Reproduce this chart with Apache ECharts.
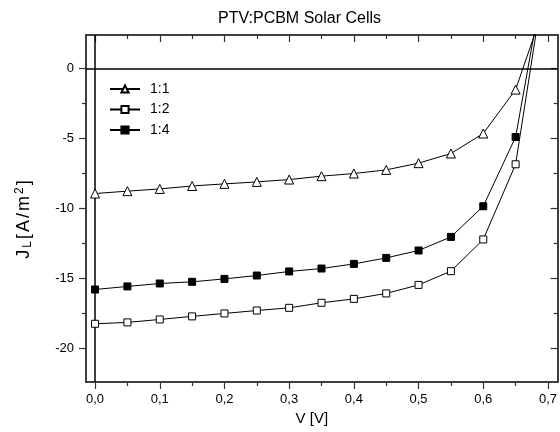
<!DOCTYPE html>
<html>
<head>
<meta charset="utf-8">
<script src="https://cdn.jsdelivr.net/npm/echarts@6/dist/echarts.min.js"></script>
<style>
  html, body { margin: 0; padding: 0; background: #fff; }
  #chart { width: 560px; height: 432px; }
</style>
</head>
<body>
<div id="chart"></div>
<script>
// PTV:PCBM J-V curves
const voltages = [0, 0.05, 0.1, 0.15, 0.2, 0.25, 0.3, 0.35, 0.4, 0.45, 0.5, 0.55, 0.6, 0.65, 0.7];
const ratio11 = [-8.93, -8.76, -8.6, -8.39, -8.24, -8.1, -7.93, -7.69, -7.5, -7.24, -6.76, -6.07, -4.64, -1.5, 5.2];
const ratio12 = [-18.24, -18.14, -17.93, -17.71, -17.5, -17.29, -17.1, -16.74, -16.46, -16.07, -15.46, -14.48, -12.21, -6.84, 8.0];
const ratio14 = [-15.79, -15.57, -15.36, -15.24, -15.03, -14.79, -14.5, -14.29, -13.96, -13.53, -13.0, -12.03, -9.84, -4.89, 8.0];

const xMajor = [0, 0.1, 0.2, 0.3, 0.4, 0.5, 0.6, 0.7];
const xMinor = [0.05, 0.15, 0.25, 0.35, 0.45, 0.55, 0.65];
const yMajor = [-20, -15, -10, -5, 0];
const yMinor = [-17.5, -12.5, -7.5, -2.5];

const X_MIN = -0.014, X_MAX = 0.715;
const Y_MIN = -22.4, Y_MAX = 2.4;
const FONT = 'Liberation Sans, Arial, sans-serif';
const frameColor = '#333';

const chart = echarts.init(document.getElementById('chart'), null, { renderer: 'canvas' });

// frame axes: one per side and tick size (major / minor), labels only on the left/bottom majors
function frameAxis(kind, position, ticks, tickLen, inside, opts) {
  return Object.assign({
    type: 'value',
    position,
    min: kind === 'x' ? X_MIN : Y_MIN,
    max: kind === 'x' ? X_MAX : Y_MAX,
    axisLine: { show: true, onZero: false, lineStyle: { color: frameColor, width: 1.5 } },
    axisTick: {
      show: true,
      inside,
      length: tickLen,
      customValues: ticks,
      lineStyle: { color: frameColor, width: 1.2 },
    },
    axisLabel: { show: false },
    splitLine: { show: false },
  }, opts || {});
}

const toPairs = ys => voltages.map((v, i) => [v, ys[i]]);

function lineSeries(name, ys, symbol, fill, size) {
  return {
    name,
    type: 'line',
    xAxisIndex: 0,
    yAxisIndex: 0,
    data: toPairs(ys),
    symbol,
    symbolSize: size,
    showAllSymbol: true,
    clip: true,
    lineStyle: { color: '#000', width: 1 },
    itemStyle: { color: fill, borderColor: '#000', borderWidth: 1 },
    emphasis: { disabled: true },
    z: 3,
  };
}

const nameChar = { fontSize: 18, color: '#000', fontFamily: FONT, padding: [0, 1] };

const option = {
  animation: false,
  backgroundColor: '#fff',
  textStyle: { fontFamily: FONT },
  title: {
    text: 'PTV:PCBM Solar Cells',
    left: 218,
    top: 11,
    padding: 0,
    textStyle: { fontSize: 16, fontWeight: 'normal', color: '#000', fontFamily: FONT },
  },
  legend: {
    orient: 'vertical',
    left: 109,
    top: 82,
    padding: 0,
    itemWidth: 30,
    itemHeight: 9,
    itemGap: 6.5,
    textStyle: { fontSize: 14, color: '#000', fontFamily: FONT, padding: [0, 0, 0, 5] },
    data: ['1:1', '1:2', '1:4'],
  },
  grid: { left: 86, right: 2, top: 35, bottom: 50 },
  xAxis: [
    frameAxis('x', 'bottom', xMajor, 7, false, {
      name: 'V [V]',
      nameLocation: 'middle',
      nameGap: 29,
      nameTextStyle: { fontSize: 15, color: '#000', fontFamily: FONT, padding: [0, 20, 0, 0] },
      axisLabel: {
        show: true,
        customValues: xMajor,
        margin: 11,
        fontSize: 13,
        color: '#000',
        fontFamily: FONT,
        formatter: v => v.toFixed(1).replace('.', ','),
      },
    }),
    frameAxis('x', 'bottom', xMinor, 4, false),
    frameAxis('x', 'top', xMajor, 7, true),
    frameAxis('x', 'top', xMinor, 4, true),
  ],
  yAxis: [
    frameAxis('y', 'left', yMajor, 7, false, {
      name: '{n|J}{sub|L}{n|[}{n|A}{n|/}{n|m}{sup|2}{n|]}',
      nameLocation: 'middle',
      nameGap: 52,
      nameTextStyle: {
        padding: [0, 22, 0, 0],
        rich: {
          n: nameChar,
          sub: { fontSize: 12, color: '#000', fontFamily: FONT, verticalAlign: 'bottom', padding: [8, 1, 0, 1] },
          sup: { fontSize: 12, color: '#000', fontFamily: FONT, verticalAlign: 'top', padding: [0, 1, 8, 1] },
        },
      },
      axisLabel: {
        show: true,
        customValues: yMajor,
        margin: 12,
        fontSize: 13,
        color: '#000',
        fontFamily: FONT,
      },
    }),
    frameAxis('y', 'left', yMinor, 4, false),
    frameAxis('y', 'right', yMajor, 7, true),
    frameAxis('y', 'right', yMinor, 4, true),
  ],
  series: [
    Object.assign(lineSeries('1:1', ratio11, 'triangle', '#fff', 9), {
      markLine: {
        silent: true,
        symbol: 'none',
        label: { show: false },
        lineStyle: { color: '#000', type: 'solid', width: 1.5 },
        data: [{ yAxis: 0 }, { xAxis: 0 }],
        z: 2,
      },
    }),
    lineSeries('1:2', ratio12, 'rect', '#fff', 7),
    lineSeries('1:4', ratio14, 'rect', '#000', 7),
  ],
};

chart.setOption(option);
</script>
</body>
</html>
